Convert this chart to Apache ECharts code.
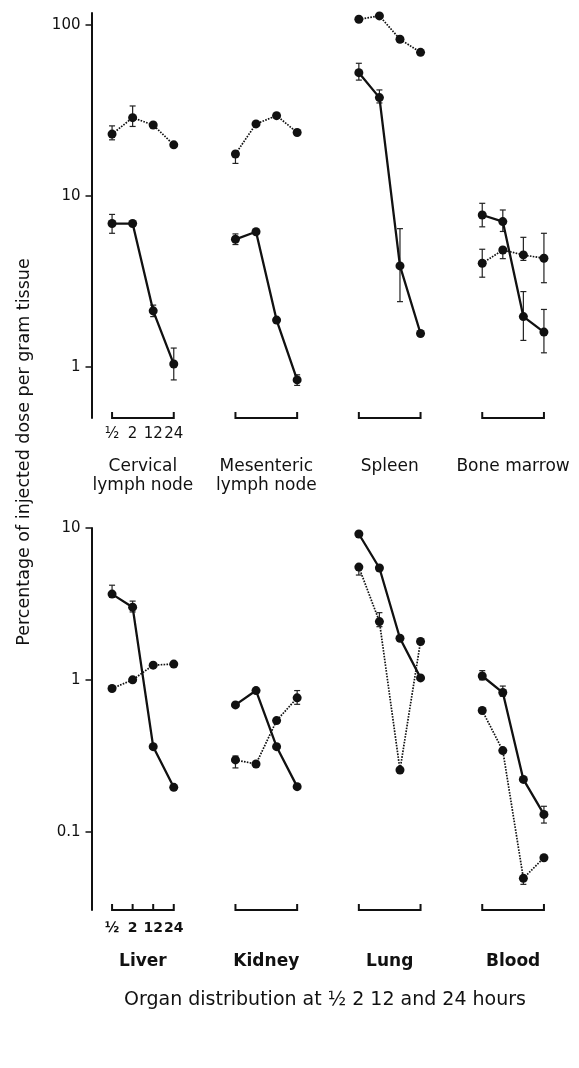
<!DOCTYPE html>
<html><head><meta charset="utf-8">
<script src="https://cdn.jsdelivr.net/npm/echarts@6/dist/echarts.min.js"></script>
<style>html,body{margin:0;padding:0;background:#fff}#c{width:579px;height:1068px}</style>
</head><body><div id="c"></div>
<script>
// ---- data ----
const timeLabels = ['½', '2', '12', '24'];
const topOrgans = ['Cervical\nlymph node', 'Mesenteric\nlymph node', 'Spleen', 'Bone marrow'];
const bottomOrgans = ['Liver', 'Kidney', 'Lung', 'Blood'];
const topTicks = [1, 10, 100];
const bottomTicks = [0.1, 1, 10];
const xTitle = 'Organ distribution at ½ 2 12 and 24 hours';
const yTitle = 'Percentage of injected dose per gram tissue';

// values at ½, 2, 12, 24 h for each organ
const topSolid = [
  [6.9, 6.9, 2.13, 1.04],
  [5.58, 6.18, 1.88, 0.84],
  [52.6, 37.6, 3.9, 1.57],
  [7.74, 7.08, 1.97, 1.6]
];
const topDotted = [
  [23.0, 28.7, 26.0, 19.9],
  [17.6, 26.4, 29.5, 23.5],
  [108, 113, 82.5, 69.2],
  [4.04, 4.83, 4.52, 4.32]
];
const bottomSolid = [
  [3.67, 3.01, 0.363, 0.196],
  [0.684, 0.85, 0.363, 0.198],
  [9.13, 5.45, 1.88, 1.03],
  [1.06, 0.825, 0.221, 0.130]
];
const bottomDotted = [
  [0.877, 1.0, 1.25, 1.27],
  [0.297, 0.279, 0.539, 0.761],
  [5.53, 2.42, 0.255, 1.79],
  [0.628, 0.342, 0.0493, 0.0674]
];
// error bars [low, high]
const topSolidErr = [
  [[6.05, 7.8], null, [1.97, 2.3], [0.84, 1.29]],
  [[5.2, 6.0], null, null, [0.78, 0.9]],
  [[47.6, 59.7], [35, 41.7], [2.41, 6.44], null],
  [[6.6, 9.06], [6.2, 8.28], [1.43, 2.76], [1.21, 2.17]]
];
const topDottedErr = [
  [[21.3, 25.7], [25.5, 33.6], null, null],
  [[15.5, 17.6], null, null, null],
  [null, null, null, null],
  [[3.35, 4.88], [4.3, 4.83], [4.2, 5.73], [3.11, 6.05]]
];
const bottomSolidErr = [
  [[3.5, 4.2], [2.8, 3.3], null, null],
  [null, null, null, null],
  [null, null, null, null],
  [[1.0, 1.15], [0.78, 0.91], null, [0.114, 0.147]]
];
const bottomDottedErr = [
  [null, null, null, null],
  [[0.263, 0.315], null, null, [0.69, 0.85]],
  [[4.9, 5.53], [2.24, 2.77], null, null],
  [null, null, [0.045, 0.049], null]
];

// ---- chart ----
const FONT = 'DejaVu Sans';
const INK = '#111';
const GROUP = 6;

function lineSeries(panel, groups, dotted) {
  return groups.map((vals, g) => ({
    type: 'line', xAxisIndex: panel * 2, yAxisIndex: panel,
    data: vals.map((v, t) => [g * GROUP + t, v]),
    symbol: 'circle', symbolSize: 9, showSymbol: true,
    itemStyle: { color: INK },
    lineStyle: { color: INK, width: dotted ? 1.7 : 2.3, type: dotted ? [1.6, 1.3] : 'solid' },
    animation: false, z: dotted ? 3 : 4, silent: true
  }));
}
function errData(errs) {
  const out = [];
  errs.forEach((grp, g) => grp.forEach((e, t) => { if (e) out.push([g * GROUP + t, e[0], e[1]]); }));
  return out;
}
function errSeries(panel, errs) {
  return {
    type: 'custom', xAxisIndex: panel * 2, yAxisIndex: panel,
    data: errData(errs), encode: { x: 0, y: [1, 2] }, animation: false, silent: true, z: 2,
    renderItem: function (params, api) {
      const x = api.value(0);
      const p1 = api.coord([x, api.value(1)]);
      const p2 = api.coord([x, api.value(2)]);
      const st = { stroke: '#222', lineWidth: 1.2 };
      const cw = 3;
      return { type: 'group', children: [
        { type: 'line', shape: { x1: p1[0], y1: p1[1], x2: p2[0], y2: p2[1] }, style: st },
        { type: 'line', shape: { x1: p1[0] - cw, y1: p1[1], x2: p1[0] + cw, y2: p1[1] }, style: st },
        { type: 'line', shape: { x1: p2[0] - cw, y1: p2[1], x2: p2[0] + cw, y2: p2[1] }, style: st }
      ]};
    }
  };
}
function bracketSeries(panel, innerTicksGroup) {
  return {
    type: 'custom', xAxisIndex: panel * 2, yAxisIndex: panel,
    data: [[0, 1], [1, 1], [2, 1], [3, 1]], encode: { x: 0, y: 1 },
    animation: false, silent: true, clip: false,
    renderItem: function (params, api) {
      const g = api.value(0);
      const yb = params.coordSys.y + params.coordSys.height;
      const xs = [0, 1, 2, 3].map(t => api.coord([g * GROUP + t, 1])[0]);
      const h = 6;
      const st = { stroke: INK, lineWidth: 2, fill: null, lineJoin: 'miter' };
      const children = [{ type: 'polyline', shape: { points: [[xs[0], yb - h], [xs[0], yb], [xs[3], yb], [xs[3], yb - h]] }, style: st }];
      if (g === innerTicksGroup) {
        [1, 2].forEach(i => children.push({ type: 'line', shape: { x1: xs[i], y1: yb, x2: xs[i], y2: yb - h }, style: { stroke: INK, lineWidth: 2 } }));
      }
      return { type: 'group', children };
    }
  };
}
function yAxis(panel, min, max, ticks) {
  return {
    type: 'log', logBase: 10, gridIndex: panel, min, max, position: 'left',
    axisLine: { show: true, onZero: false, lineStyle: { color: INK, width: 2 } },
    axisTick: { show: true, length: 6, inside: false, customValues: ticks, lineStyle: { color: INK, width: 1.5 } },
    axisLabel: { customValues: ticks, margin: 11, color: INK, fontFamily: FONT, fontSize: 15, hideOverlap: false,
      formatter: v => (v < 1 ? String(v) : String(Math.round(v))) },
    splitLine: { show: false }, minorTick: { show: false }
  };
}
function xAxis(panel, values, labels, margin, fontSize, bold, lineHeight) {
  return {
    type: 'value', gridIndex: panel, min: -1, max: 22, position: 'bottom',
    axisLine: { show: false, onZero: false }, axisTick: { show: false }, splitLine: { show: false },
    axisLabel: { customValues: values, margin, color: INK, fontFamily: FONT, fontSize, hideOverlap: false,
      fontWeight: bold ? 'bold' : 'normal', lineHeight,
      formatter: v => labels[values.indexOf(v)] }
  };
}
const tPos = [0, 1, 2, 3];
const oPos = [1.5, 7.5, 13.5, 19.5];

const option = {
  backgroundColor: '#fff',
  animation: false,
  grid: [
    { left: 91.5, top: 13, width: 473, height: 405, containLabel: false, outerBoundsMode: 'none' },
    { left: 91.5, top: 528, width: 473, height: 382, containLabel: false, outerBoundsMode: 'none' }
  ],
  xAxis: [
    xAxis(0, tPos, timeLabels, 8, 15, false, 16),
    xAxis(0, oPos, topOrgans, 39, 17, false, 19),
    xAxis(1, tPos, timeLabels, 10, 14, true, 16),
    xAxis(1, oPos, bottomOrgans, 42, 17, true, 19)
  ],
  yAxis: [
    yAxis(0, 0.503, 117.5, topTicks),
    yAxis(1, 0.0305, 10, bottomTicks)
  ],
  graphic: [
    { type: 'text', x: 24, y: 452, rotation: Math.PI / 2,
      style: { text: yTitle, fontFamily: FONT, fontSize: 17.5, fill: INK, align: 'center', verticalAlign: 'middle' } },
    { type: 'text', x: 325, y: 1000,
      style: { text: xTitle, fontFamily: FONT, fontSize: 19, fill: INK, align: 'center', verticalAlign: 'middle' } }
  ],
  series: [].concat(
    lineSeries(0, topSolid, false), lineSeries(0, topDotted, true),
    lineSeries(1, bottomSolid, false), lineSeries(1, bottomDotted, true),
    [errSeries(0, topSolidErr), errSeries(0, topDottedErr), errSeries(1, bottomSolidErr), errSeries(1, bottomDottedErr),
     bracketSeries(0, -1), bracketSeries(1, 0)]
  )
};

const chart = echarts.init(document.getElementById('c'), null, { renderer: 'canvas' });
chart.setOption(option);
</script>
</body></html>
